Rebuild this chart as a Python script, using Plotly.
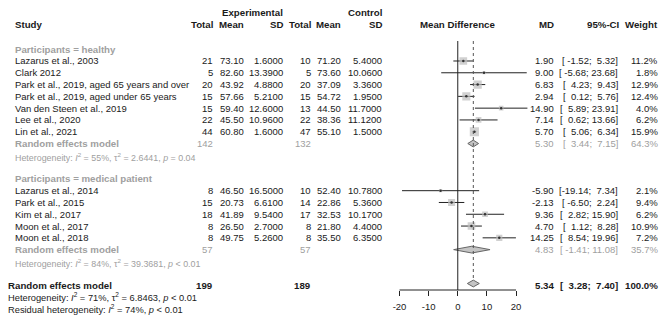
import math
import plotly.graph_objects as go

# ---------------- data ----------------
healthy_study = ["Lazarus et al., 2003", "Clark 2012", "Park et al., 2019, aged 65 years and over",
                 "Park et al., 2019, aged under 65 years", "Van den Steen et al., 2019",
                 "Lee et al., 2020", "Lin et al., 2021"]
healthy_exp_n = [21, 5, 20, 15, 15, 22, 44]
healthy_exp_mean = [73.10, 82.60, 43.92, 57.66, 59.40, 45.50, 60.80]
healthy_exp_sd = [1.6000, 13.3900, 4.8800, 5.2100, 12.6000, 10.9600, 1.6000]
healthy_ctl_n = [10, 5, 20, 15, 13, 22, 47]
healthy_ctl_mean = [71.20, 73.60, 37.09, 54.72, 44.50, 38.36, 55.10]
healthy_ctl_sd = [5.4000, 10.0600, 3.3600, 1.9500, 11.7000, 11.1200, 1.5000]
healthy_md = [1.90, 9.00, 6.83, 2.94, 14.90, 7.14, 5.70]
healthy_lo = [-1.52, -5.68, 4.23, 0.12, 5.89, 0.62, 5.06]
healthy_hi = [5.32, 23.68, 9.43, 5.76, 23.91, 13.66, 6.34]
healthy_w = [11.2, 1.8, 12.9, 12.4, 4.0, 6.2, 15.9]
healthy_pool = dict(md=5.30, lo=3.44, hi=7.15, w=64.3, n_exp=142, n_ctl=132,
                    i2="55%", tau2="2.6441", p="= 0.04")

medical_study = ["Lazarus et al., 2014", "Park et al., 2015", "Kim et al., 2017",
                 "Moon et al., 2017", "Moon et al., 2018"]
medical_exp_n = [8, 15, 18, 8, 8]
medical_exp_mean = [46.50, 20.73, 41.89, 26.50, 49.75]
medical_exp_sd = [16.5000, 6.6100, 9.5400, 2.7000, 5.2600]
medical_ctl_n = [10, 14, 17, 8, 8]
medical_ctl_mean = [52.40, 22.86, 32.53, 21.80, 35.50]
medical_ctl_sd = [10.7800, 5.3600, 10.1700, 4.4000, 6.3500]
medical_md = [-5.90, -2.13, 9.36, 4.70, 14.25]
medical_lo = [-19.14, -6.50, 2.82, 1.12, 8.54]
medical_hi = [7.34, 2.24, 15.90, 8.28, 19.96]
medical_w = [2.1, 9.4, 6.2, 10.9, 7.2]
medical_pool = dict(md=4.83, lo=-1.41, hi=11.08, w=35.7, n_exp=57, n_ctl=57,
                    i2="84%", tau2="39.3681", p="&lt; 0.01")

overall = dict(md=5.34, lo=3.28, hi=7.40, w=100.0, n_exp=199, n_ctl=189,
               i2="71%", tau2="6.8463", p="&lt; 0.01", resid_i2="74%", resid_p="&lt; 0.01")

x_ticks = [-20, -10, 0, 10, 20]

# ---------------- layout constants ----------------
W, H = 669, 324
FONT = "Liberation Sans, Arial, sans-serif"
FS = 9.5       # regular text
FSB = 9.7      # bold text
BLACK = "#1a1a1a"
GRAY = "#a0a0a0"
ROW0, STEP = 49.2, 11.79
AXIS_Y = 290.0
XR = (-21.0, 25.0)
PX0, PXSCALE = 456.5, 2.93  # pixel of 0, px per unit


def row(k):
    return ROW0 + STEP * k


annotations = []


def txt(x, y, s, anchor="left", size=None, color=BLACK, bold=False):
    if size is None:
        size = FSB if bold else FS
    if bold:
        s = "<b>" + s + "</b>"
    annotations.append(dict(x=x / W, y=1 - y / H, xref="paper", yref="paper", text=s,
                            xanchor=anchor, yanchor="middle", showarrow=False,
                            font=dict(family=FONT, size=size, color=color)))


def ci_str(lo, hi):
    a = f"{lo:.2f}".rjust(6).replace(" ", "\u00a0")
    b = f"{hi:.2f}".rjust(5).replace(" ", "\u00a0")
    return f"[{a};\u00a0{b}]"


COLS = dict(en=212, em=243, esd=283, cn=311, cm=341, csd=382, md=555, ci=620, w=660)

# headers
txt(COLS["esd"], 12.7, "Experimental", "right", bold=True)
txt(COLS["csd"], 12.7, "Control", "right", bold=True)
hy = 24.3
txt(9, hy, "Study", bold=True)
txt(COLS["en"], hy, "Total", "right", bold=True)
txt(COLS["em"], hy, "Mean", "right", bold=True)
txt(COLS["esd"], hy, "SD", "right", bold=True)
txt(COLS["cn"], hy, "Total", "right", bold=True)
txt(COLS["cm"], hy, "Mean", "right", bold=True)
txt(COLS["csd"], hy, "SD", "right", bold=True)
txt(456, hy, "Mean Difference", "center", bold=True)
txt(COLS["md"], hy, "MD", "right", bold=True)
txt(622, hy, "95%-CI", "right", bold=True)
txt(COLS["w"], hy, "Weight", "right", bold=True)

fig = go.Figure()

groups = [
    ("Participants = healthy", healthy_study, healthy_exp_n, healthy_exp_mean, healthy_exp_sd,
     healthy_ctl_n, healthy_ctl_mean, healthy_ctl_sd, healthy_md, healthy_lo, healthy_hi,
     healthy_w, healthy_pool, 0),
    ("Participants = medical patient", medical_study, medical_exp_n, medical_exp_mean,
     medical_exp_sd, medical_ctl_n, medical_ctl_mean, medical_ctl_sd, medical_md, medical_lo,
     medical_hi, medical_w, medical_pool, 11),
]

ci_x, ci_y, sq_x, sq_y, sq_s = [], [], [], [], []
dia = []
for (title, st, en, em, esd, cn, cm, csd, md, lo, hi, w, pool, k0) in groups:
    txt(9, row(k0), title, color=GRAY, bold=True)
    for i in range(len(st)):
        y = row(k0 + 1 + i)
        txt(9, y, st[i])
        txt(COLS["en"], y, str(en[i]), "right")
        txt(COLS["em"], y, f"{em[i]:.2f}", "right")
        txt(COLS["esd"], y, f"{esd[i]:.4f}", "right")
        txt(COLS["cn"], y, str(cn[i]), "right")
        txt(COLS["cm"], y, f"{cm[i]:.2f}", "right")
        txt(COLS["csd"], y, f"{csd[i]:.4f}", "right")
        txt(COLS["md"], y, f"{md[i]:.2f}", "right")
        txt(COLS["ci"], y, ci_str(lo[i], hi[i]), "right")
        txt(COLS["w"], y, f"{w[i]:.1f}%", "right")
        ci_x += [lo[i], hi[i], None]
        ci_y += [y, y, None]
        sq_x.append(md[i]); sq_y.append(y); sq_s.append(2.3 * math.sqrt(w[i]))
    yp = row(k0 + 1 + len(st))
    txt(9, yp, "Random effects model", color=GRAY, bold=True)
    txt(COLS["en"], yp, str(pool["n_exp"]), "right", color=GRAY)
    txt(COLS["cn"], yp, str(pool["n_ctl"]), "right", color=GRAY)
    txt(COLS["md"], yp, f"{pool['md']:.2f}", "right", color=GRAY)
    txt(COLS["ci"], yp, ci_str(pool["lo"], pool["hi"]), "right", color=GRAY)
    txt(COLS["w"], yp, f"{pool['w']:.1f}%", "right", color=GRAY)
    txt(9, yp + STEP + 1.3,
        f"Heterogeneity: <i>I</i><sup>2</sup> = {pool['i2']}, \u03c4<sup>2</sup> = {pool['tau2']}, <i>p</i> {pool['p']}",
        size=8.9, color=GRAY)
    dia.append((pool, yp))

yo = row(20)
txt(2, yo, "Random effects model", bold=True)
txt(COLS["en"], yo, str(overall["n_exp"]), "right", bold=True)
txt(COLS["cn"], yo, str(overall["n_ctl"]), "right", bold=True)
txt(COLS["md"], yo, f"{overall['md']:.2f}", "right", bold=True)
txt(COLS["ci"], yo, ci_str(overall["lo"], overall["hi"]), "right", bold=True)
txt(COLS["w"], yo, f"{overall['w']:.1f}%", "right", bold=True)
txt(2, row(21) + 0.5,
    f"Heterogeneity: <i>I</i><sup>2</sup> = {overall['i2']}, \u03c4<sup>2</sup> = {overall['tau2']}, <i>p</i> {overall['p']}",
    size=9.3)
txt(2, row(22) + 0.5,
    f"Residual heterogeneity: <i>I</i><sup>2</sup> = {overall['resid_i2']}, <i>p</i> {overall['resid_p']}",
    size=9.3)
dia.append((overall, yo - 1.5))

# reference lines
shapes = [
    dict(type="line", xref="x", yref="y", x0=0, x1=0, y0=41, y1=AXIS_Y,
         line=dict(color="#222", width=1)),
    dict(type="line", xref="x", yref="y", x0=overall["md"], x1=overall["md"], y0=41, y1=yo - 4,
         line=dict(color="#555", width=1, dash="dot")),
    dict(type="line", xref="x", yref="paper", x0=x_ticks[0], x1=x_ticks[-1],
         y0=1 - AXIS_Y / H, y1=1 - AXIS_Y / H, line=dict(color="#222", width=1)),
]

fig.add_trace(go.Scatter(x=ci_x, y=ci_y, mode="lines", line=dict(color="#222", width=1),
                         hoverinfo="skip", showlegend=False))
fig.add_trace(go.Scatter(x=sq_x, y=sq_y, mode="markers",
                         marker=dict(symbol="square", size=sq_s, color="#bdbdbd", line=dict(width=0)),
                         hoverinfo="skip", showlegend=False))
fig.add_trace(go.Scatter(x=sq_x, y=sq_y, mode="markers",
                         marker=dict(symbol="circle", size=2.5, color="#333"),
                         hoverinfo="skip", showlegend=False))
for pool, yp in dia:
    h = 3.4
    fig.add_trace(go.Scatter(x=[pool["lo"], pool["md"], pool["hi"], pool["md"], pool["lo"]],
                             y=[yp, yp - h, yp, yp + h, yp], mode="lines", fill="toself",
                             fillcolor="#c4c4c4", line=dict(color="#666", width=1),
                             hoverinfo="skip", showlegend=False))

x0px = PX0 + XR[0] * PXSCALE
x1px = PX0 + XR[1] * PXSCALE
fig.update_layout(
    width=W, height=H, autosize=False,
    margin=dict(l=0, r=0, t=0, b=0, pad=0),
    paper_bgcolor="white", plot_bgcolor="rgba(0,0,0,0)",
    hovermode=False,
    xaxis=dict(domain=[x0px / W, x1px / W], range=list(XR), showgrid=False, zeroline=False,
               showline=False, tickvals=x_ticks, ticktext=[str(t) for t in x_ticks],
               ticks="outside", ticklen=5, tickwidth=1, tickcolor="#222",
               tickfont=dict(family=FONT, size=FS, color=BLACK), ticklabelstandoff=3,
               fixedrange=True),
    yaxis=dict(domain=[1 - AXIS_Y / H, 1], range=[AXIS_Y, 0], visible=False, fixedrange=True),
    annotations=annotations, shapes=shapes,
    font=dict(family=FONT),
)

fig.write_html("out.html", config={"displayModeBar": False, "staticPlot": True},
               post_script="document.body.style.margin='0';document.body.style.overflow='hidden';")
